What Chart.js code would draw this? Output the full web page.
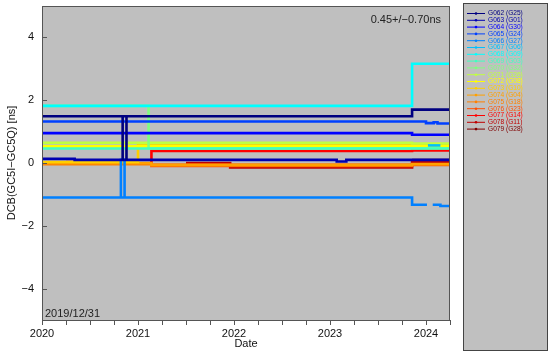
<!DOCTYPE html>
<html>
<head>
<meta charset="utf-8">
<script src="https://cdn.jsdelivr.net/npm/chart.js@4.4.1/dist/chart.umd.min.js"></script>
<style>
  html, body { margin: 0; padding: 0; background: #fff; }
</style>
</head>
<body>
<canvas id="dcbChart" width="550" height="354"></canvas>
<script>
const satLabels = ['G062 (G25)', 'G063 (G01)', 'G064 (G30)', 'G065 (G24)', 'G066 (G27)', 'G067 (G06)',
  'G068 (G09)', 'G069 (G03)', 'G070 (G32)', 'G071 (G26)', 'G072 (G08)', 'G073 (G10)',
  'G074 (G04)', 'G075 (G18)', 'G076 (G23)', 'G077 (G14)', 'G078 (G11)', 'G079 (G28)'];
const satColors = ['#000080', '#0000b0', '#0000ff', '#0040ff', '#0080ff', '#00c0ff',
  '#00ffff', '#40ffc0', '#80ff80', '#c0ff40', '#ffff00', '#ffd000',
  '#ffa000', '#ff8000', '#ff5000', '#ff0000', '#c00000', '#800000'];

// [decimal year, DCB ns] -- each value holds until the next point
const g062 = [[2020.0, 1.49], [2020.84, 0.12], [2020.8401, 1.49], [2020.88, 0.12], [2020.8801, 1.49], [2023.855, 1.70], [2024.25, 1.70]];
const g063 = [[2020.0, 0.13], [2020.34, 0.10], [2023.07, 0.05], [2023.17, 0.10], [2024.25, 0.10]];
const g064 = [[2020.0, 0.95], [2023.855, 0.90], [2024.25, 0.90]];
const g065 = [[2020.0, 1.32], [2024.0, 1.27], [2024.08, 1.30], [2024.12, 1.26], [2024.25, 1.26]];
const g066 = [[2020.0, -1.10], [2020.822, 0.10], [2020.8221, -1.10], [2020.86, 0.10], [2020.8601, -1.10],
  [2023.855, -1.33], [2024.01, -1.33], [2024.02, null], [2024.07, -1.33], [2024.15, -1.37], [2024.25, -1.37]];
const g067 = [[2024.02, 0.56], [2024.15, 0.56]];
const g068 = [[2020.0, 1.82], [2023.855, 3.16], [2024.25, 3.16]];
const g069 = [[2020.0, 0.46], [2024.25, 0.46]];
const g070 = [[2020.0, 1.82], [2021.11, 0.47], [2024.25, 0.47]];
const g071 = [[2020.0, 0.64], [2023.855, 0.62], [2024.25, 0.62]];
const g072 = [[2020.0, 0.53], [2024.25, 0.53]];
const g073 = [[2020.0, 0.03], [2021.0, 0.56], [2024.25, 0.56]];
const g074 = [[2020.0, 0.0], [2021.14, -0.07], [2023.855, -0.03], [2024.25, -0.03]];
const g075 = [[2020.0, -0.04], [2021.14, -0.05], [2024.25, -0.05]];
const g076 = [[2020.25, 0.03], [2020.57, -0.02], [2021.14, -0.09], [2023.855, -0.06], [2024.25, -0.06]];
const g077 = [[2020.0, -0.02], [2021.14, 0.38], [2023.855, 0.40], [2024.25, 0.40]];
const g078 = [[2021.5, 0.0], [2021.96, -0.14], [2023.855, 0.04], [2024.25, 0.04]];
const g079 = [[2023.855, 0.09], [2024.25, 0.09]];
const seriesData = [g062, g063, g064, g065, g066, g067, g068, g069, g070, g071, g072, g073, g074, g075, g076, g077, g078, g079];

const yTickValues = [-4, -2, 0, 2, 4];
const xYearLabels = [2020, 2021, 2022, 2023, 2024];
const statText = '0.45+/\u22120.70ns';
const startDateText = '2019/12/31';

const FONT = "'Liberation Sans', Arial, sans-serif";

const decor = {
  id: 'decor',
  beforeDatasetsDraw(chart) {
    const { ctx, chartArea: a } = chart;
    ctx.save();
    ctx.fillStyle = '#bfbfbf';
    ctx.fillRect(a.left, a.top, a.right - a.left, a.bottom - a.top);
    ctx.restore();
  },
  afterDraw(chart) {
    const { ctx, chartArea: a } = chart;
    const ys = chart.scales.y;
    ctx.save();
    // frame
    ctx.strokeStyle = '#555';
    ctx.lineWidth = 1;
    ctx.strokeRect(a.left + 0.5, a.top + 0.5, a.right - a.left - 1, a.bottom - a.top);
    // inward y ticks
    ys.ticks.forEach(t => {
      const y = Math.round(ys.getPixelForValue(t.value)) + 0.5;
      ctx.beginPath();
      ctx.moveTo(a.left, y);
      ctx.lineTo(a.left + 5, y);
      ctx.stroke();
    });
    // annotations
    ctx.fillStyle = '#222';
    ctx.font = '11px ' + FONT;
    ctx.textAlign = 'right';
    ctx.textBaseline = 'alphabetic';
    ctx.fillText(statText, a.right - 9, a.top + 17);
    ctx.textAlign = 'left';
    ctx.fillText(startDateText, a.left + 3, a.bottom - 3);

    // legend panel
    const lx = a.right + 13, ly = 3, lw = 85, lh = chart.height - 6;
    ctx.fillStyle = '#c0c0c0';
    ctx.fillRect(lx, ly, lw, lh);
    ctx.strokeStyle = '#444';
    ctx.strokeRect(lx + 0.5, ly + 0.5, lw - 1, lh - 1);
    ctx.font = '6.6px ' + FONT;
    ctx.textBaseline = 'middle';
    chart.data.datasets.forEach((ds, i) => {
      const y = ly + 10.5 + i * 6.8;
      ctx.strokeStyle = ds.borderColor;
      ctx.lineWidth = 1;
      ctx.beginPath();
      ctx.moveTo(lx + 4, y);
      ctx.lineTo(lx + 22, y);
      ctx.stroke();
      ctx.fillStyle = ds.borderColor;
      ctx.beginPath();
      ctx.arc(lx + 13, y, 1.3, 0, Math.PI * 2);
      ctx.fill();
      ctx.fillText(ds.label, lx + 25, y);
    });
    ctx.restore();
  }
};

const ctx = document.getElementById('dcbChart').getContext('2d');
new Chart(ctx, {
  type: 'line',
  data: {
    datasets: seriesData.map((d, i) => ({
      label: satLabels[i],
      data: d,
      borderColor: satColors[i],
      backgroundColor: satColors[i],
      borderWidth: 2.6,
      pointRadius: 0,
      stepped: true,
      fill: false,
      spanGaps: false,
    })),
  },
  options: {
    responsive: false,
    animation: false,
    events: [],
    layout: { padding: { left: 0, top: 6, right: 100, bottom: 0 } },
    plugins: { legend: { display: false }, tooltip: { enabled: false } },
    scales: {
      x: {
        type: 'linear',
        min: 2020,
        max: 2024.25,
        afterFit: s => { s.height = 34; s.paddingLeft = 0; s.paddingRight = 0; },
        afterBuildTicks: s => {
          const t = [];
          for (let q = 0; q <= 17; q++) t.push({ value: 2020 + q * 0.25 });
          s.ticks = t;
        },
        ticks: {
          autoSkip: false,
          maxRotation: 0,
          padding: 2,
          color: '#111',
          font: { family: FONT, size: 11 },
          callback: v => (xYearLabels.includes(v) ? String(v) : ''),
        },
        grid: { drawOnChartArea: false, drawTicks: true, tickLength: 5, color: '#555' },
        border: { display: false },
        title: { display: true, text: 'Date', color: '#111', font: { family: FONT, size: 11 }, padding: { top: 0, bottom: 3 } },
      },
      y: {
        min: -5,
        max: 5,
        afterFit: s => { s.width = 42; s.paddingTop = 0; s.paddingBottom = 0; },
        afterBuildTicks: s => { s.ticks = yTickValues.map(v => ({ value: v })); },
        ticks: {
          padding: 8,
          color: '#111',
          font: { family: FONT, size: 11 },
          callback: v => (v < 0 ? '\u2212' + (-v) : String(v)),
        },
        grid: { display: false, drawTicks: false },
        border: { display: false },
        title: { display: true, text: 'DCB(GC5I\u2212GC5Q) [ns]', color: '#111', font: { family: FONT, size: 11 }, padding: { top: 5, bottom: 0 } },
      },
    },
  },
  plugins: [decor],
});
</script>
</body>
</html>
